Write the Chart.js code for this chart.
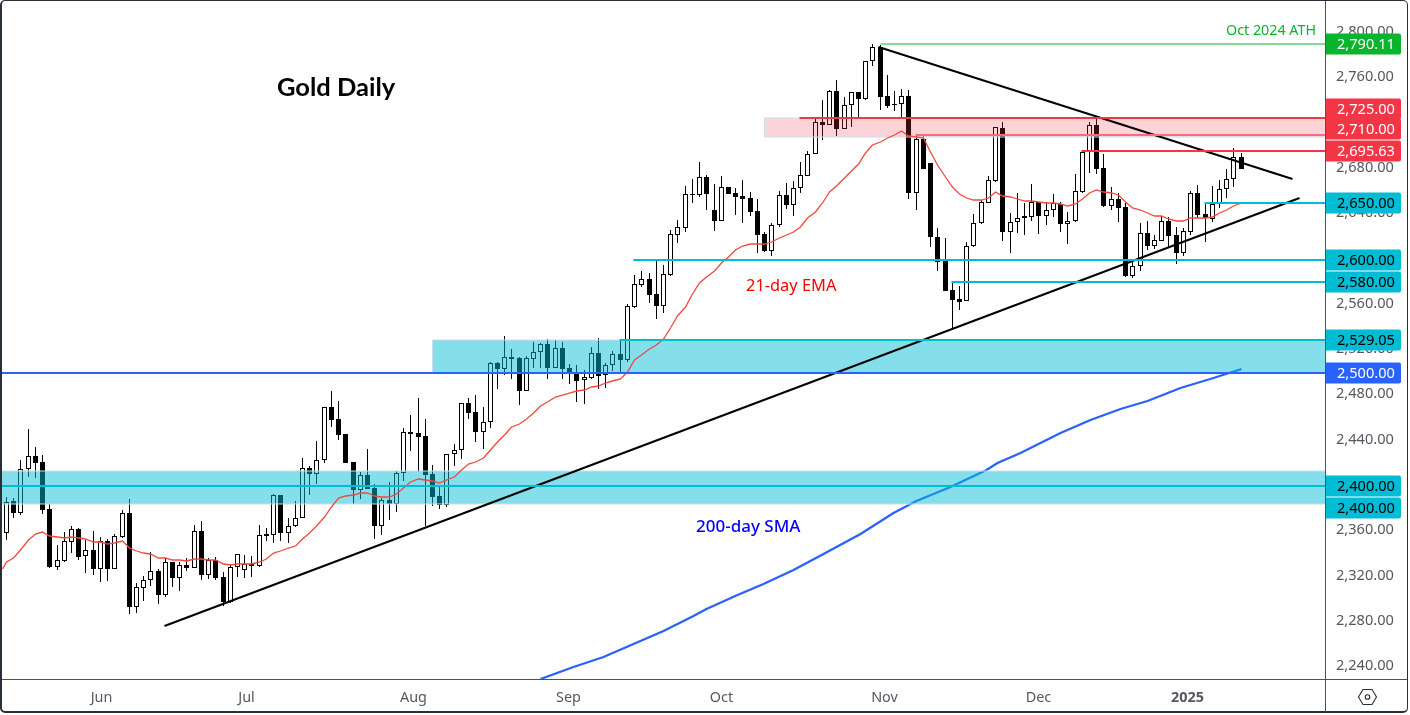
<!DOCTYPE html>
<html>
<head>
<meta charset="utf-8">
<title>Gold Daily</title>
<script src="https://cdn.jsdelivr.net/npm/chart.js@4/dist/chart.umd.js"></script>
<style>
    html, body { margin: 0; padding: 0; background: #fff; overflow: hidden; }
    #chart { position: absolute; left: 0; top: 0; }
    .frame { position: absolute; left: 0; top: 0; width: 1408px; height: 713px; box-sizing: border-box; border: 2px solid #2a2e39; border-top-width: 1px; border-right-width: 1px; border-radius: 5px; pointer-events: none; }
    .axis-v { position: absolute; left: 1325px; top: 1px; width: 1px; height: 711px; background: #50535e; }
    .axis-h { position: absolute; left: 2px; top: 679px; width: 1405px; height: 1px; background: #50535e; }
    #gear { position: absolute; left: 1357px; top: 687px; }
</style>
</head>
<body>
<canvas id="chart" width="1410" height="715"></canvas>
<div class="frame"></div>
<div class="axis-v"></div>
<div class="axis-h"></div>
<svg id="gear" width="21" height="20" viewBox="0 0 21 20">
    <path d="M1.5 10 L6 2.5 L15 2.5 L19.5 10 L15 17.5 L6 17.5 Z" fill="none" stroke="#2a2e39" stroke-width="1.1"/>
    <circle cx="10.5" cy="10" r="2.3" fill="none" stroke="#2a2e39" stroke-width="1.1"/>
</svg>
<script>
// daily candles, one per trading day
const opens = [
    2358.2,2386.7,2376.4,2414.7,2426.5,2421.2,2379.4,2328.7,2334.0,2350.8,
    2362.0,2337.9,2343.2,2327.0,2351.1,2327.0,2355.2,2375.8,2293.4,2310.2,
    2316.7,2324.6,2304.0,2332.6,2319.0,2329.9,2327.9,2360.0,2321.7,2334.3,
    2319.6,2297.8,2328.1,2326.1,2331.1,2329.6,2357.6,2357.0,2392.0,2358.8,
    2364.4,2371.4,2415.6,2410.9,2422.6,2469.5,2458.9,2445.6,2420.9,2396.8,
    2409.7,2398.2,2364.9,2387.6,2384.4,2411.2,2447.4,2446.5,2443.9,2410.3,
    2390.9,2382.9,2427.9,2431.5,2473.0,2465.1,2448.0,2456.2,2508.6,2503.6,
    2513.6,2513.0,2484.2,2512.4,2518.0,2525.4,2504.5,2521.6,2503.9,2500.4,
    2493.3,2495.4,2517.2,2497.7,2506.6,2516.6,2511.2,2558.3,2577.8,2582.5,
    2569.2,2559.2,2586.3,2621.9,2628.1,2657.9,2657.3,2672.6,2643.7,2634.3,
    2663.7,2658.7,2656.1,2654.0,2642.5,2622.2,2607.8,2630.2,2656.7,2648.4,
    2662.9,2674.0,2692.9,2721.1,2719.1,2748.5,2715.6,2736.2,2747.6,2742.1,
    2775.0,2787.7,2744.1,2737.0,2737.0,2744.1,2659.0,2706.4,2684.9,2619.6,
    2598.7,2572.8,2564.8,2563.1,2611.7,2632.0,2650.2,2669.6,2715.9,2624.6,
    2632.9,2636.4,2637.9,2650.5,2638.7,2643.4,2649.3,2631.7,2633.7,2659.9,
    2694.7,2718.8,2680.5,2647.6,2653.2,2646.1,2585.7,2594.0,2623.1,2612.2,
    2616.7,2633.7,2621.4,2606.1,2624.6,2658.5,2639.9,2636.1,2648.7,2662.0,
    2670.8,2690.3
];
const highs = [
    2390.6,2389.1,2422.9,2450.0,2434.1,2427.1,2383.8,2347.6,2359.1,2364.7,
    2362.9,2352.3,2360.2,2354.6,2353.2,2357.6,2378.8,2388.5,2314.3,2320.5,
    2341.4,2326.7,2336.1,2333.2,2333.2,2336.1,2365.5,2369.1,2336.1,2337.3,
    2324.0,2331.1,2339.6,2339.0,2338.4,2365.5,2362.6,2392.9,2392.0,2371.4,
    2386.7,2424.7,2417.6,2439.7,2469.5,2483.9,2475.1,2445.6,2420.9,2412.1,
    2432.4,2401.5,2389.1,2403.2,2413.5,2450.9,2462.7,2477.4,2459.2,2418.2,
    2399.4,2427.9,2437.1,2473.0,2478.0,2480.1,2470.1,2509.8,2509.8,2532.5,
    2520.7,2514.2,2514.8,2527.2,2526.6,2529.8,2528.9,2526.9,2507.4,2506.9,
    2502.4,2523.0,2530.4,2508.3,2518.9,2528.9,2560.7,2586.0,2589.8,2587.8,
    2599.6,2595.2,2626.1,2634.6,2664.9,2671.1,2685.8,2674.6,2666.7,2673.8,
    2664.3,2662.9,2670.2,2659.3,2653.4,2624.6,2632.5,2660.8,2667.3,2669.6,
    2686.1,2696.1,2723.8,2740.9,2749.4,2758.5,2743.8,2748.2,2748.2,2775.0,
    2790.3,2789.5,2763.0,2748.8,2750.3,2749.4,2710.0,2710.0,2685.5,2627.5,
    2618.7,2581.3,2576.6,2615.2,2639.9,2652.6,2673.8,2716.8,2721.5,2641.4,
    2658.5,2649.6,2666.4,2651.1,2651.1,2657.6,2651.1,2642.3,2675.5,2695.3,
    2721.5,2724.7,2693.2,2664.4,2658.5,2650.2,2599.6,2632.6,2634.3,2621.7,
    2638.5,2637.9,2628.4,2627.6,2660.2,2665.8,2649.6,2665.0,2670.2,2679.7,
    2698.2,2694.4
];
const lows = [
    2352.3,2372.0,2374.4,2408.2,2407.3,2375.3,2327.9,2325.8,2333.2,2341.1,
    2334.6,2323.4,2321.4,2315.5,2316.1,2327.0,2354.3,2286.9,2288.1,2298.7,
    2312.0,2295.8,2302.2,2311.1,2307.5,2325.2,2327.3,2317.0,2317.8,2317.0,
    2294.0,2296.9,2319.9,2318.4,2319.9,2328.7,2351.7,2350.0,2351.4,2350.0,
    2364.1,2371.4,2392.0,2402.0,2420.6,2452.4,2440.6,2420.6,2384.1,2388.5,
    2397.6,2353.5,2356.7,2370.0,2377.3,2404.7,2430.9,2412.1,2364.7,2382.6,
    2380.0,2381.7,2417.9,2423.8,2459.5,2439.1,2432.7,2451.2,2485.7,2498.0,
    2494.5,2471.5,2484.2,2503.9,2503.9,2494.5,2504.5,2494.5,2490.4,2474.5,
    2472.4,2494.8,2485.7,2486.2,2501.9,2501.0,2509.8,2557.5,2575.4,2561.9,
    2547.7,2552.5,2585.7,2614.9,2624.0,2649.6,2655.5,2643.7,2625.5,2634.0,
    2658.1,2639.3,2632.5,2638.7,2605.4,2606.6,2603.4,2629.0,2644.6,2638.7,
    2659.0,2674.0,2692.9,2705.5,2719.1,2709.1,2715.6,2717.3,2725.6,2740.6,
    2770.9,2732.0,2733.8,2731.4,2725.6,2653.1,2643.7,2680.2,2611.3,2590.1,
    2572.5,2537.7,2555.4,2563.1,2611.4,2631.4,2649.6,2668.8,2616.7,2606.1,
    2623.1,2621.7,2634.3,2622.6,2630.5,2637.9,2624.6,2613.7,2632.9,2659.0,
    2676.7,2675.5,2646.7,2643.7,2633.4,2584.9,2583.7,2590.2,2608.4,2609.3,
    2616.1,2611.4,2596.1,2603.1,2622.0,2636.4,2615.8,2633.4,2645.8,2654.1,
    2664.4,2680.0
];
const closes = [
    2386.1,2376.4,2414.7,2426.2,2420.6,2379.1,2328.7,2334.3,2351.1,2361.7,
    2337.6,2343.2,2327.0,2351.1,2327.0,2355.5,2375.8,2293.4,2310.5,2316.7,
    2324.6,2304.0,2332.6,2319.0,2329.9,2327.9,2360.0,2321.7,2334.6,2319.0,
    2297.2,2328.1,2339.6,2331.1,2329.6,2356.4,2356.1,2392.0,2358.8,2364.4,
    2371.4,2415.6,2410.9,2422.6,2469.5,2458.6,2445.3,2420.6,2396.8,2409.4,
    2397.6,2364.9,2387.3,2384.4,2411.2,2447.4,2446.2,2443.6,2410.0,2390.6,
    2382.9,2427.9,2431.5,2473.0,2464.8,2448.0,2456.2,2508.3,2503.3,2513.6,
    2512.4,2484.2,2512.7,2518.0,2525.4,2504.2,2521.6,2503.3,2499.5,2492.7,
    2496.0,2517.2,2497.4,2506.6,2516.3,2511.3,2558.6,2578.0,2582.5,2568.9,
    2559.2,2586.9,2622.2,2628.4,2657.6,2657.3,2672.6,2658.1,2634.3,2663.7,
    2658.1,2655.5,2653.7,2642.2,2621.9,2607.5,2630.2,2656.7,2648.4,2662.9,
    2674.3,2692.9,2721.4,2719.1,2748.5,2715.6,2736.2,2747.6,2742.1,2775.0,
    2787.7,2743.8,2735.6,2736.5,2744.1,2659.0,2706.4,2680.2,2619.6,2598.1,
    2572.5,2564.5,2562.5,2611.7,2632.0,2650.5,2669.9,2716.8,2624.6,2632.9,
    2636.4,2638.2,2650.5,2638.7,2643.4,2649.6,2631.7,2633.7,2660.2,2694.7,
    2718.5,2680.0,2647.3,2653.2,2645.8,2585.7,2594.3,2623.1,2612.2,2617.0,
    2633.7,2620.8,2606.1,2624.9,2658.5,2639.3,2636.4,2648.7,2662.0,2670.8,
    2690.3,2680.2
];
const ema21 = [
    2332.6,2336.7,2343.5,2352.3,2357.9,2359.4,2356.1,2354.6,2354.3,2354.9,
    2353.8,2352.9,2350.5,2350.5,2348.5,2349.3,2351.7,2345.5,2342.6,2340.8,
    2340.2,2336.4,2336.1,2334.6,2334.3,2334.0,2335.8,2335.2,2334.9,2334.6,
    2331.1,2330.2,2330.8,2331.4,2331.4,2333.2,2335.5,2341.1,2342.6,2344.9,
    2347.0,2352.9,2358.2,2364.7,2372.3,2381.7,2389.7,2391.4,2392.0,2393.5,
    2393.5,2391.4,2390.6,2390.3,2392.6,2397.9,2403.8,2405.9,2405.6,2404.1,
    2402.9,2405.3,2407.9,2414.1,2419.1,2421.5,2424.4,2431.8,2439.1,2445.0,
    2451.8,2454.7,2459.5,2464.8,2470.6,2473.9,2478.3,2480.4,2482.4,2483.6,
    2484.8,2487.7,2488.6,2490.7,2492.7,2494.5,2501.0,2511.2,2515.6,2520.7,
    2524.5,2529.5,2539.8,2550.4,2558.3,2569.5,2579.5,2584.8,2590.1,2596.6,
    2602.5,2608.4,2611.9,2613.4,2613.7,2613.7,2615.2,2618.7,2621.6,2624.6,
    2629.0,2636.4,2642.2,2649.6,2659.3,2664.9,2671.7,2678.2,2684.1,2693.8,
    2701.1,2704.1,2707.0,2710.0,2713.8,2709.1,2708.5,2707.0,2695.2,2683.5,
    2673.2,2664.3,2657.6,2654.0,2652.6,2652.6,2654.6,2659.9,2656.4,2654.9,
    2653.5,2651.7,2651.4,2650.5,2650.2,2650.2,2648.7,2647.0,2648.7,2653.5,
    2659.1,2661.1,2659.3,2659.1,2657.0,2651.1,2645.8,2643.4,2640.8,2638.7,
    2638.4,2636.1,2634.0,2633.7,2636.4,2636.7,2637.0,2637.3,2640.8,2643.7,
    2647.3,2649.9
];
// the EMA comes in from just left of the first candle
const emaLeadIndex = -0.6;
const emaLeadValue = 2326.5;
// 200-day SMA, sampled along the bar index
const smaIndex = [74,78.6,82.7,86.9,91,95.2,97,101.2,104.9,109,113.2,118.3,122.9,126.1,130.7,135.8,137.2,140.4,146,150.1,154.3,158,162.6,167.2,171.1];
const smaValues = [2229.5,2239.9,2249.2,2260.2,2272.2,2285.2,2291.1,2303.7,2313.2,2325.8,2339.9,2357.3,2375.9,2387.0,2399.4,2414.1,2420.0,2428.9,2446.5,2458.3,2467.7,2475.3,2486.3,2495.7,2503.3];

// axis labels
const monthTicks = [13.1,33.2,56.4,77.9,99,121.6,143,163.6];
const monthLabels = ["Jun","Jul","Aug","Sep","Oct","Nov","Dec","2025"];
const priceTicks = [2240,2280,2320,2360,2400,2440,2480,2520,2560,2600,2640,2680,2720,2760,2800];

// horizontal levels: price, first bar, colour, width
const levelPrices = [2790.11,2725,2710,2695.63,2650,2600,2580,2529.05,2500,2400];
const levelStart = [121,109.8,125.9,148.9,165.9,86.8,130.9,84.9,-1,-1];
const levelColors = ["#0ab52d","#f23645","#f76d78","#f23645","#00bcd4","#00bcd4","#00bcd4","#00bcd4","#2962ff","#00bcd4"];
const levelWidths = [1,2,2,2,2,2,2,2,2,2];

// shaded zones
const zoneStart = [105,59,-1];
const zoneTop = [2725,2529.05,2413.5];
const zoneBottom = [2708.6,2500,2384.1];
const zoneFill = ["rgba(242,54,69,0.22)","rgba(0,188,212,0.48)","rgba(0,188,212,0.48)"];

// trend lines
const trendFromIndex = [21.9,120.8];
const trendFromPrice = [2276.4,2788];
const trendToIndex = [179.1,178.1];
const trendToPrice = [2654.4,2670.9];

// price labels on the right
const badgeLabels = ["2,790.11","2,725.00","2,710.00","2,695.63","2,650.00","2,600.00","2,580.00","2,529.05","2,500.00","2,400.00","2,400.00"];
const badgePrices = [2790.11,2733.0,2714.9,2695.63,2650,2600,2580,2529.05,2500,2400,2381];
const badgeColors = ["#0ab52d","#f23645","#f23645","#f23645","#00bcd4","#00bcd4","#00bcd4","#00bcd4","#2962ff","#00bcd4","#00bcd4"];
const badgeText = ["#fff","#fff","#fff","#fff","#000","#000","#000","#000","#fff","#000","#000"];

// free text on the chart
const noteText = ["Gold Daily","21-day EMA","200-day SMA","Oct 2024 ATH"];
const noteX = [277,746,696,1226];
const noteY = [88,286,527,31];
const noteFont = ["bold 25.5px Lato","16.4px 'Noto Sans'","500 17px 'Noto Sans'","14.3px 'Noto Sans'"];
const noteColor = ["#000","#f00","#00f","#0ab52d"];

const X_MIN = -0.554;
const X_MAX = 182.69;
const Y_MIN = 2229.1;
const Y_MAX = 2827.5;
const TICK_FONT = "'Noto Sans'";

// bars land on whole pixels so the wicks and body edges stay sharp
class SnapLinear extends Chart.LinearScale {
    getPixelForValue(value) {
        const px = Math.round(super.getPixelForValue(value));
        return this.axis === "x" ? px + 0.5 : px;
    }
}
SnapLinear.id = "snapLinear";
SnapLinear.defaults = Chart.LinearScale.defaults;
Chart.register(SnapLinear);

var wicks = [];
var bodies = [];
var bodyColors = [];
var emaPoints = [{ x: emaLeadIndex, y: emaLeadValue }];
for (i = 0; i < opens.length; i++) {
    wicks.push({ x: i, y: [lows[i], highs[i]] });
    bodies.push({ x: i, y: [opens[i], closes[i]] });
    bodyColors.push(closes[i] >= opens[i] ? "#fff" : "#000");
    emaPoints.push({ x: i, y: ema21[i] });
}
var smaPoints = smaIndex.map(function (x, n) { return { x: x, y: smaValues[n] }; });

var dataSets = [
    { type: "bar", data: wicks, backgroundColor: "#000", borderWidth: 0, barThickness: 1, grouped: false, inflateAmount: 0, order: 20 },
    { type: "bar", data: bodies, backgroundColor: bodyColors, borderColor: "#000", borderWidth: 1, borderSkipped: false, barThickness: 5, minBarLength: 1, grouped: false, inflateAmount: 0, order: 19 },
    { type: "line", data: emaPoints, borderColor: "#f2483f", borderWidth: 1.3, pointRadius: 0, tension: 0, order: 7 },
    { type: "line", data: smaPoints, borderColor: "#2962ff", borderWidth: 2.3, pointRadius: 0, tension: 0, order: 17 }
];
zoneStart.forEach(function (x0, n) {
    dataSets.push({
        type: "line",
        data: [
            { x: x0, y: zoneTop[n] }, { x: X_MAX + 1, y: zoneTop[n] },
            { x: X_MAX + 1, y: zoneBottom[n] }, { x: x0, y: zoneBottom[n] }, { x: x0, y: zoneTop[n] }
        ],
        fill: "shape", backgroundColor: zoneFill[n], borderColor: "#cfdcea", borderWidth: 1, pointRadius: 0, tension: 0, order: 10
    });
});
trendFromIndex.forEach(function (x0, n) {
    dataSets.push({
        type: "line",
        data: [{ x: x0, y: trendFromPrice[n] }, { x: trendToIndex[n], y: trendToPrice[n] }],
        borderColor: "#000", borderWidth: 2, pointRadius: 0, order: 5
    });
});
levelPrices.forEach(function (price, n) {
    dataSets.push({
        type: "line",
        data: [{ x: levelStart[n], y: price }, { x: X_MAX + 1, y: price }],
        borderColor: levelColors[n], borderWidth: levelWidths[n], pointRadius: 0, order: 4
    });
});

// price badges and free text go on top of everything
const overlay = {
    id: "overlay",
    beforeDraw: function (chart) {
        // nudge the price labels up a little, they sit high in the original
        chart.scales.y.getLabelItems().forEach(function (item) {
            if (!item.nudged) {
                item.options.translation[1] -= 1.3;
                item.nudged = true;
            }
        });
    },
    afterDraw: function (chart) {
        const ctx = chart.ctx;
        const y = chart.scales.y;
        ctx.save();
        ctx.textBaseline = "middle";
        ctx.textAlign = "left";
        badgeLabels.forEach(function (label, n) {
            const py = y.getPixelForValue(badgePrices[n]);
            ctx.fillStyle = badgeColors[n];
            ctx.beginPath();
            ctx.roundRect(1326, py - 10.5, 75, 21, [0, 2, 2, 0]);
            ctx.fill();
            ctx.fillStyle = badgeText[n];
            ctx.font = "14.6px " + TICK_FONT;
            ctx.fillText(label, 1337, py + 1);
        });
        noteText.forEach(function (text, n) {
            ctx.font = noteFont[n];
            ctx.fillStyle = noteColor[n];
            ctx.fillText(text, noteX[n], noteY[n]);
        });
        ctx.restore();
    }
};

new Chart(document.getElementById("chart"), {
    data: { datasets: dataSets },
    plugins: [overlay],
    options: {
        responsive: false,
        animation: false,
        layout: { padding: { left: 2, top: 2, right: 0, bottom: 0 } },
        plugins: { legend: { display: false }, tooltip: { enabled: false } },
        scales: {
            x: {
                type: "snapLinear",
                offset: false,
                min: X_MIN,
                max: X_MAX,
                grid: { display: false, drawTicks: false },
                border: { display: false },
                afterBuildTicks: function (scale) {
                    scale.ticks = monthTicks.map(function (v) { return { value: v }; });
                },
                afterFit: function (scale) {
                    scale.height = 35.5;
                    scale.paddingLeft = 0;
                    scale.paddingRight = 0;
                },
                ticks: {
                    autoSkip: false,
                    maxRotation: 0,
                    padding: 9.5,
                    color: "#555861",
                    font: function (c) {
                        const isYear = c.tick && c.tick.value === monthTicks[monthTicks.length - 1];
                        return { family: "'Noto Sans'", size: 14.4, weight: isYear ? "bold" : "normal" };
                    },
                    callback: function (value) { return monthLabels[monthTicks.indexOf(value)]; }
                }
            },
            y: {
                type: "snapLinear",
                position: "right",
                min: Y_MIN,
                max: Y_MAX,
                grid: { display: false, drawTicks: false },
                border: { display: false },
                afterBuildTicks: function (scale) {
                    scale.ticks = priceTicks.map(function (v) { return { value: v }; });
                },
                afterFit: function (scale) {
                    scale.width = 85;
                    scale.paddingTop = 0;
                    scale.paddingBottom = 0;
                },
                ticks: {
                    padding: 11,
                    color: "#555861",
                    font: { family: "'Noto Sans'", size: 14.6 },
                    callback: function (value) {
                        return value.toLocaleString("en-US", { minimumFractionDigits: 2, maximumFractionDigits: 2 });
                    }
                }
            }
        }
    }
});
</script>
</body>
</html>
